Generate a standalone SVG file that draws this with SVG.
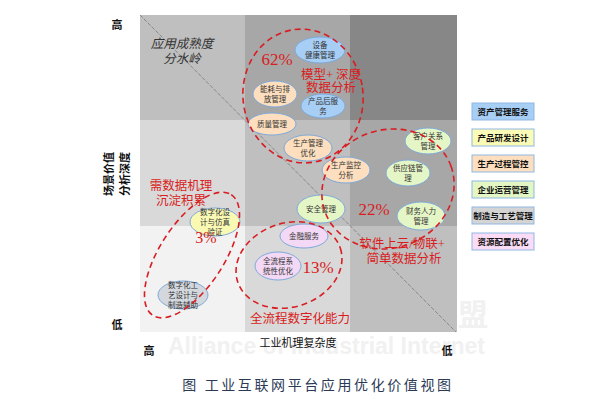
<svg xmlns="http://www.w3.org/2000/svg" width="600" height="400" viewBox="0 0 600 400">
<style>
.cjk{font-family:"Noto Sans CJK SC","Noto Sans",sans-serif}
.nt{font-family:"Noto Sans CJK SC",sans-serif;font-size:7.5px;fill:#333;text-anchor:middle}
.nd{stroke:#7ea9d9;stroke-width:1}
.blue{fill:#a7cef5}.peach{fill:#fddfbf}.green{fill:#e5f6c6}.lav{fill:#f3d9f5}.yel{fill:#f9f9b4}.gry{fill:#d3d8de}
.red{fill:none;stroke:#d81e22;stroke-width:1.6;stroke-dasharray:6 4}
.rt{font-family:"Liberation Serif","Noto Sans CJK SC",serif;fill:#d81e22;text-anchor:middle}
.ax{font-family:"Noto Sans CJK SC",sans-serif;font-size:11px;fill:#111;text-anchor:middle}
.lg{font-family:"Noto Sans CJK SC",sans-serif;font-size:8.5px;font-weight:bold;fill:#111;text-anchor:middle}
.lb{stroke:#8fb7e3;stroke-width:1}
</style>
<rect width="600" height="400" fill="#fff"/>
<g id="watermark" font-family="Liberation Sans,sans-serif" font-weight="bold" fill="#f1f1f1">
<text x="168" y="354" font-size="23">Alliance of Industrial Internet</text>
<text x="458" y="325" font-size="30" font-family="Noto Sans CJK SC,sans-serif">盟</text>
</g>
<g id="grid">
<rect x="140" y="15" width="105" height="105" fill="#bfbfbf"/>
<rect x="245" y="15" width="105" height="105" fill="#a7a7a7"/>
<rect x="350" y="15" width="107" height="105" fill="#878787"/>
<rect x="140" y="120" width="105" height="106" fill="#d9d9d9"/>
<rect x="245" y="120" width="105" height="106" fill="#bfbfbf"/>
<rect x="350" y="120" width="107" height="106" fill="#a7a7a7"/>
<rect x="140" y="226" width="105" height="106" fill="#f2f2f2"/>
<rect x="245" y="226" width="105" height="106" fill="#d9d9d9"/>
<rect x="350" y="226" width="107" height="106" fill="#bfbfbf"/>
</g>
<g id="connectors">
<line x1="140" y1="15" x2="456" y2="332" stroke="#7a7a7a" stroke-width="0.8" stroke-dasharray="4 1.5"/>
</g>
<g id="watershed-label" class="cjk" font-style="italic" font-size="12.5" fill="#333" text-anchor="middle">
<text x="182" y="48">应用成熟度</text>
<text x="182" y="63">分水岭</text>
</g>
<g id="n-sbjk"><ellipse class="nd blue" cx="320" cy="50" rx="25" ry="13"/><text class="nt" x="320" y="48">设备</text><text class="nt" x="320" y="58">健康管理</text></g>
<g id="n-nhpf"><ellipse class="nd peach" cx="275" cy="94" rx="22" ry="13"/><text class="nt" x="275" y="92">能耗与排</text><text class="nt" x="275" y="102">放管理</text></g>
<g id="n-cphfw"><ellipse class="nd blue" cx="323" cy="106" rx="22" ry="12"/><text class="nt" x="323" y="104">产品后服</text><text class="nt" x="323" y="114">务</text></g>
<g id="n-zlgl"><ellipse class="nd peach" cx="272" cy="124" rx="24" ry="11"/><text class="nt" x="272" y="127">质量管理</text></g>
<g id="n-scglyh"><ellipse class="nd peach" cx="308" cy="148" rx="24" ry="13"/><text class="nt" x="308" y="146">生产管理</text><text class="nt" x="308" y="156">优化</text></g>
<g id="n-scjkfx"><ellipse class="nd peach" cx="346" cy="170" rx="24" ry="13"/><text class="nt" x="346" y="168">生产监控</text><text class="nt" x="346" y="178">分析</text></g>
<g id="n-khgx"><ellipse class="nd green" cx="428" cy="141" rx="23" ry="13"/><text class="nt" x="428" y="139">客户关系</text><text class="nt" x="428" y="149">管理</text></g>
<g id="n-gyl"><ellipse class="nd green" cx="408" cy="173" rx="22" ry="13"/><text class="nt" x="408" y="171">供应链管</text><text class="nt" x="408" y="181">理</text></g>
<g id="n-cwrl"><ellipse class="nd green" cx="421" cy="216" rx="24" ry="14"/><text class="nt" x="421" y="214">财务人力</text><text class="nt" x="421" y="224">管理</text></g>
<g id="n-aqgl"><ellipse class="nd green" cx="321" cy="209" rx="24" ry="14"/><text class="nt" x="321" y="212">安全管理</text></g>
<g id="n-jrfw"><ellipse class="nd lav" cx="304" cy="236" rx="24" ry="12"/><text class="nt" x="304" y="239">金融服务</text></g>
<g id="n-qlc"><ellipse class="nd lav" cx="278" cy="266" rx="23" ry="14"/><text class="nt" x="278" y="264">全流程系</text><text class="nt" x="278" y="274">统性优化</text></g>
<g id="n-szhsj"><ellipse class="nd yel" cx="215" cy="222" rx="25" ry="14"/><text class="nt" x="215" y="215">数字化设</text><text class="nt" x="215" y="225">计与仿真</text><text class="nt" x="215" y="235">验证</text></g>
<g id="n-szhgy"><ellipse class="nd gry" cx="183" cy="295" rx="25" ry="14"/><text class="nt" x="183" y="288">数字化工</text><text class="nt" x="183" y="298">艺设计与</text><text class="nt" x="183" y="308">制造辅助</text></g>
<g id="clusters">
<ellipse class="red" cx="303" cy="96" rx="60" ry="67" transform="rotate(-8 303 96)"/>
<ellipse class="red" cx="388" cy="189" rx="67" ry="59" transform="rotate(-20 388 189)"/>
<ellipse class="red" cx="289" cy="265" rx="54" ry="42" transform="rotate(-18 289 265)"/>
<ellipse class="red" cx="192" cy="255" rx="72" ry="32" transform="rotate(-57 192 255)"/>
</g>
<g id="cluster-labels">
<text class="rt" x="277" y="65" font-size="17">62%</text>
<text class="rt" x="331" y="79" font-size="12.5">模型+ 深度</text>
<text class="rt" x="331" y="92" font-size="12.5">数据分析</text>
<text class="rt" x="374" y="215" font-size="17">22%</text>
<text class="rt" x="402" y="248" font-size="12.5">软件上云/物联+</text>
<text class="rt" x="404" y="263" font-size="12.5">简单数据分析</text>
<text class="rt" x="318" y="273" font-size="17">13%</text>
<text class="rt" x="300" y="323" font-size="12.5">全流程数字化能力</text>
<text class="rt" x="181" y="190" font-size="12.5">需数据机理</text>
<text class="rt" x="181" y="205" font-size="12.5">沉淀积累</text>
<text class="rt" x="206" y="243" font-size="16">3%</text>
</g>
<g id="axes" font-weight="bold">
<text class="ax" x="117" y="29">高</text>
<text class="ax" x="117" y="329">低</text>
<text class="ax" x="149" y="355">高</text>
<text class="ax" x="447" y="355">低</text>
<text class="ax" x="298" y="347" font-weight="normal">工业机理复杂度</text>
<text class="ax" font-size="12" transform="translate(113 174) rotate(-90)">场景价值</text>
<text class="ax" font-size="12" transform="translate(129 174) rotate(-90)">分析深度</text>
</g>
<g id="legend">
<rect class="lb" x="472" y="103" width="62" height="17" fill="#a7cef5"/><text class="lg" x="503" y="115">资产管理服务</text>
<rect class="lb" x="472" y="129" width="62" height="17" fill="#fbfbb8"/><text class="lg" x="503" y="141">产品研发设计</text>
<rect class="lb" x="472" y="155" width="62" height="17" fill="#fddfbf"/><text class="lg" x="503" y="167">生产过程管控</text>
<rect class="lb" x="472" y="181" width="62" height="17" fill="#e3f6c4"/><text class="lg" x="503" y="193">企业运营管理</text>
<rect class="lb" x="472" y="207" width="62" height="17" fill="#d4d4d4"/><text class="lg" x="503" y="219">制造与工艺管理</text>
<rect class="lb" x="472" y="233" width="62" height="17" fill="#fbdcf7"/><text class="lg" x="503" y="245">资源配置优化</text>
</g>
<g id="caption">
<text class="cjk" x="318" y="390" font-size="14" fill="#2b3a55" text-anchor="middle" letter-spacing="2.6">图 工业互联网平台应用优化价值视图</text>
</g>
</svg>
